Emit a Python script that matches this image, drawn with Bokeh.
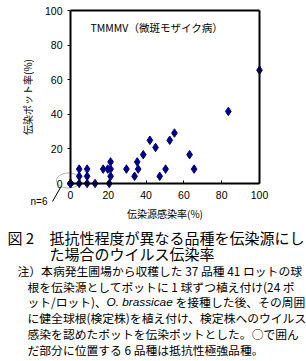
import numpy as np
from bokeh.plotting import figure
from bokeh.models import Range1d, Label, PolyAnnotation, Arrow, FixedTicker, LinearAxis
from bokeh.embed import file_html
from bokeh.resources import INLINE

# data: source infection rate (%) vs infected pot rate (%)
source_rate = [0, 0, 0, 0, 0, 0,
               4.6, 4.6, 4.6, 8.8, 8.8, 8.8, 13.0,
               17.3, 19.7, 21.2, 21.2, 21.2, 20.5,
               29.6, 33.9, 35.3, 35.8, 38.5, 42.0, 45.0, 47.2,
               50.3, 52.5, 55.0, 63.0, 65.4, 83.5, 100.0]
pot_rate = [0, 0, 0, 0, 0, 0,
            8.33, 4.17, 0, 8.33, 4.17, 0, 0,
            8.33, 8.33, 8.33, 12.5, 4.17, 0,
            8.33, 4.17, 12.5, 8.33, 16.67, 25.0, 20.83, 4.17,
            8.33, 25.0, 29.17, 16.67, 8.33, 41.67, 65.5]
x_ticks = [0, 20, 40, 60, 80, 100]
y_ticks = [0, 20, 40, 60, 80, 100]

title_text = "TMMMV（微斑モザイク病）"
x_label = "伝染源感染率(%)"
y_label = "伝染ポット率(%)"
cap_fig = "図 2"
cap_lines = ["抵抗性程度が異なる品種を伝染源にし", "た場合のウイルス伝染率"]
note_first = "注）本病発生圃場から収穫した 37 品種 41 ロットの球"
note_lines = ["根を伝染源としてポットに 1 球ずつ植え付け(24 ポ",
              None,
              "に健全球根(検定株)を植え付け、検定株へのウイルス",
              "感染を認めたポットを伝染ポットとした。○で囲ん",
              "だ部分に位置する 6 品種は抵抗性極強品種。"]
note3_parts = ["ット/ロット)、", "O. brassicae", "を接種した後、その周囲"]

JP = "Noto Sans CJK JP"
W, H = 306, 361
FL, FT, FR, FB = 70, 10, 259, 183  # chart box edges on canvas
sx = (FR - FL) / 100.0
sy = (FB - FT) / 100.0

p = figure(width=W, height=H, output_backend="svg", toolbar_location=None,
           x_range=Range1d(-FL / sx, 100 + (W - FR) / sx),
           y_range=Range1d(-(H - FB) / sy, 100 + FT / sy),
           min_border=0, min_border_left=0, min_border_right=0,
           min_border_top=0, min_border_bottom=0,
           x_axis_location=None, y_axis_location=None)
p.grid.visible = False
p.outline_line_color = None
p.background_fill_color = "white"
p.border_fill_color = "white"


def style_axis(ax, show):
    ax.axis_line_width = 2
    ax.axis_line_color = "black"
    ax.minor_tick_line_color = None
    ax.bounds = (0, 100)
    ax.fixed_location = 0 if show else 100
    if show:
        ax.major_tick_line_color = "black"
        ax.major_label_text_font = "Liberation Sans"
        ax.major_label_text_font_size = "10.5px"
        ax.major_label_text_color = "black"
        ax.axis_label_text_font = JP
        ax.axis_label_text_font_size = "10px"
        ax.axis_label_text_font_style = "normal"
        ax.axis_label_text_color = "black"
    else:
        ax.major_tick_line_color = None


xb = LinearAxis(ticker=FixedTicker(ticks=x_ticks), axis_label=x_label)
yl = LinearAxis(ticker=FixedTicker(ticks=y_ticks), axis_label=y_label)
xt = LinearAxis(ticker=FixedTicker(ticks=[]))
yr = LinearAxis(ticker=FixedTicker(ticks=[]))
style_axis(xb, True)
style_axis(yl, True)
style_axis(xt, False)
style_axis(yr, False)
xb.major_tick_in = 3
xb.major_tick_out = 0
yl.major_tick_in = 0
yl.major_tick_out = 3
xb.major_label_standoff = 7
yl.major_label_standoff = 5
xb.axis_label_standoff = 4
yl.axis_label_standoff = 7
p.add_layout(xb, "below")
p.add_layout(yl, "left")
p.add_layout(xt, "above")
p.add_layout(yr, "right")

p.scatter(source_rate, pot_rate, marker="diamond", size=8.5,
          fill_color="#000080", line_color="#000080")


def lab(text, cx, cy, size, align="left", style="normal", font=JP):
    p.add_layout(Label(x=cx, y=H - cy, x_units="screen", y_units="screen",
                       text=text, text_font=font, text_font_size=size,
                       text_align=align, text_baseline="middle",
                       text_font_style=style, text_color="black"))


# inner title
lab(title_text, 90, 27, "10.5px")

# circle around origin cluster and n=6 pointer
t = np.linspace(0, 2 * np.pi, 60)
p.add_layout(PolyAnnotation(xs=list(68 + 12 * np.cos(t)), ys=list(H - 180 + 7.5 * np.sin(t)),
                            xs_units="screen", ys_units="screen",
                            fill_color=None, fill_alpha=0, line_color="black", line_width=1))
p.add_layout(Arrow(end=None, x_start=52, y_start=H - 201, x_end=60, y_end=H - 187,
                   start_units="screen", end_units="screen", line_color="black", line_width=1))
lab("n=6", 30, 201, "10px", font="Liberation Sans")

# caption
lab(cap_fig, 7, 237, "15px")
lab(cap_lines[0], 49, 237, "15px")
lab(cap_lines[1], 49, 253, "15px")

ny0, ndy = 270, 15.7
lab(note_first, 17, ny0, "11.8px")
for i, ln in enumerate(note_lines):
    yy = ny0 + ndy * (i + 1)
    if ln is None:
        lab(note3_parts[0], 27, yy, "11.8px")
        lab(note3_parts[1], 106, yy, "11.8px", style="italic", font="Liberation Sans")
        lab(note3_parts[2], 175, yy, "11.8px")
    else:
        lab(ln, 27, yy, "11.8px")

open("out.html", "w").write(file_html(p, INLINE))
